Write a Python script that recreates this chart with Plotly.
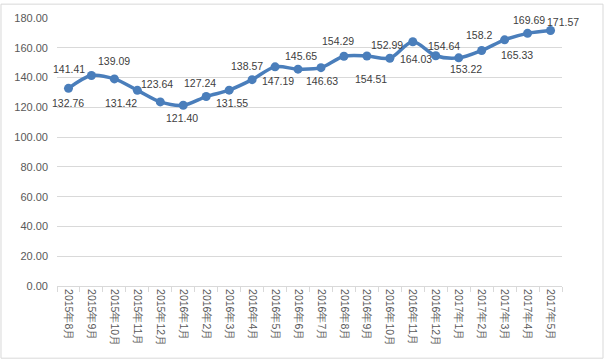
import plotly.graph_objects as go

categories = ["2015年8月", "2015年9月", "2015年10月", "2015年11月", "2015年12月",
              "2016年1月", "2016年2月", "2016年3月", "2016年4月", "2016年5月",
              "2016年6月", "2016年7月", "2016年8月", "2016年9月", "2016年10月",
              "2016年11月", "2016年12月", "2017年1月", "2017年2月", "2017年3月",
              "2017年4月", "2017年5月"]
values = [132.76, 141.41, 139.09, 131.42, 123.64, 121.40, 127.24, 131.55, 138.57,
          147.19, 145.65, 146.63, 154.29, 154.51, 152.99, 164.03, 154.64, 153.22,
          158.2, 165.33, 169.69, 171.57]
value_labels = ["132.76", "141.41", "139.09", "131.42", "123.64", "121.40", "127.24",
                "131.55", "138.57", "147.19", "145.65", "146.63", "154.29", "154.51",
                "152.99", "164.03", "154.64", "153.22", "158.2", "165.33", "169.69",
                "171.57"]
# label offsets in pixels (dx right, dy down) relative to each point
label_offsets = [(0, 15), (-22, -6), (0, -18), (-16, 13), (-3, -18), (-1, 13),
                 (-6, -14), (3, 13), (-5, -14), (3, 14), (3, -13), (1, 13),
                 (-6, -15), (4, 23), (-3, -13), (3, 17), (8, -10), (7, 11),
                 (-3, -15), (12, 15), (1, -13), (12, -9)]

FONT = "Liberation Sans, Arial, sans-serif"
BLUE = "#4a7ebb"

fig = go.Figure()
fig.add_trace(go.Scatter(
    x=categories, y=values,
    mode="lines+markers",
    line=dict(color=BLUE, width=3.5, shape="spline", smoothing=0.9),
    marker=dict(color=BLUE, size=9),
    cliponaxis=False,
    showlegend=False,
))

for cat, val, lab, (dx, dy) in zip(categories, values, value_labels, label_offsets):
    fig.add_annotation(x=cat, y=val, text=lab, showarrow=False,
                       xanchor="center", yanchor="middle",
                       xshift=dx, yshift=-dy,
                       font=dict(family=FONT, size=10.5, color="#404040"))

fig.update_layout(
    width=606, height=361,
    margin=dict(l=57, r=44, t=15, b=75),
    paper_bgcolor="white", plot_bgcolor="white",
    font=dict(family=FONT, size=11, color="#595959"),
    xaxis=dict(
        type="category",
        range=[-0.5, len(categories) - 0.5],
        tickangle=90,
        tickfont=dict(family=FONT, size=10.5, color="#595959"),
        showgrid=False,
        showline=True, linecolor="#d9d9d9", linewidth=1,
        ticks="outside", ticklen=5, tickcolor="#d9d9d9",
        tickson="boundaries",
        zeroline=False,
    ),
    yaxis=dict(
        range=[0, 180], dtick=20, tickformat=".2f",
        showgrid=True, gridcolor="#d9d9d9", gridwidth=1,
        zeroline=False, showline=False,
        tickfont=dict(family=FONT, size=11, color="#595959"),
        ticks="", ticklabelstandoff=8,
    ),
    shapes=[dict(type="rect", xref="paper", yref="paper",
                 x0=-0.1109, x1=1.0812, y0=-0.2694, y1=1.0517,
                 line=dict(color="#d9d9d9", width=1), fillcolor="rgba(0,0,0,0)",
                 layer="below")],
)

fig.write_html("out.html", config={"displayModeBar": False},
               post_script="document.body.style.margin='0';")
